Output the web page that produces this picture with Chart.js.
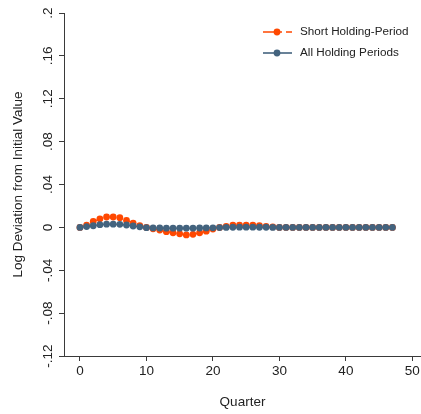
<!DOCTYPE html>
<html>
<head>
<meta charset="utf-8">
<script src="https://cdn.jsdelivr.net/npm/chart.js@4/dist/chart.umd.min.js"></script>
<style>
  html, body { margin: 0; padding: 0; background: #fff; }
  #wrap { width: 421px; height: 414px; }
</style>
</head>
<body>
<div id="wrap"><canvas id="c" width="421" height="414"></canvas></div>
<script>
// quarters 0..47
const quarters = Array.from({ length: 48 }, (_, i) => i);

const shortHolding = [
  0, 0.002, 0.0055, 0.008, 0.0097, 0.0097, 0.009, 0.0065, 0.004, 0.0017,
  0, -0.0013, -0.0025, -0.004, -0.005, -0.006, -0.007, -0.0065, -0.005, -0.0035,
  -0.0015, 0, 0.001, 0.002, 0.002, 0.002, 0.002, 0.0015, 0.001, 0.0005,
  0, 0, 0, 0, 0, 0, 0, 0, 0, 0, 0, 0, 0, 0, 0, 0, 0, 0
];

const allHolding = [
  0, 0.0007, 0.0015, 0.0025, 0.003, 0.003, 0.0028, 0.0022, 0.0013, 0.0005,
  -0.0003, -0.0005, -0.0006, -0.0007, -0.0007, -0.0007, -0.0007, -0.0007, -0.0006, -0.0005,
  -0.0004, -0.0002, 0, 0.0001, 0.0002, 0.0002, 0.0002, 0.0001, 0.0001, 0,
  0, 0, 0, 0, 0, 0, 0, 0, 0, 0, 0, 0, 0, 0, 0, 0, 0, 0
];

const yTickValues = [-0.12, -0.08, -0.04, 0, 0.04, 0.08, 0.12, 0.16, 0.2];
const yTickLabels = ["-.12", "-.08", "-.04", "0", ".04", ".08", ".12", ".16", ".2"];
const xTickValues = [0, 10, 20, 30, 40, 50];

const ORANGE = "#ff4800";
const BLUE = "#43637e";
const AXIS = "#3a3a3a";
const FONT = "'Liberation Sans', Arial, Helvetica, sans-serif";

// y tick labels are rotated like Stata draws them
const rotatedYTicks = {
  id: "rotatedYTicks",
  afterDraw(chart) {
    const ctx = chart.ctx;
    const y = chart.scales.y;
    ctx.save();
    ctx.fillStyle = "#222";
    ctx.font = "13.5px " + FONT;
    ctx.textAlign = "center";
    ctx.textBaseline = "alphabetic";
    yTickValues.forEach((v, i) => {
      const py = y.getPixelForValue(v);
      ctx.save();
      ctx.translate(52, py);
      ctx.rotate(-Math.PI / 2);
      ctx.fillText(yTickLabels[i], 0, 0);
      ctx.restore();
    });
    ctx.restore();
  }
};

// legend: line + marker, like the original
const lineLegend = {
  id: "lineLegend",
  afterDraw(chart) {
    const ctx = chart.ctx;
    const items = [
      { ds: chart.data.datasets[0], y: 32, dash: [13, 4, 2, 4] },
      { ds: chart.data.datasets[1], y: 53, dash: [] }
    ];
    ctx.save();
    items.forEach((it) => {
      ctx.strokeStyle = it.ds.borderColor;
      ctx.lineWidth = 1.6;
      ctx.setLineDash(it.dash);
      ctx.beginPath();
      ctx.moveTo(263, it.y);
      ctx.lineTo(292, it.y);
      ctx.stroke();
      ctx.setLineDash([]);
      ctx.fillStyle = it.ds.pointBackgroundColor;
      ctx.beginPath();
      ctx.arc(277, it.y, 3.4, 0, Math.PI * 2);
      ctx.fill();
      ctx.fillStyle = "#222";
      ctx.font = "11.7px " + FONT;
      ctx.textAlign = "left";
      ctx.textBaseline = "middle";
      ctx.fillText(it.ds.label, 300, it.y);
    });
    ctx.restore();
  }
};

new Chart(document.getElementById("c"), {
  type: "line",
  data: {
    labels: quarters,
    datasets: [
      {
        label: "Short Holding-Period",
        data: quarters.map((q, i) => ({ x: q, y: shortHolding[i] })),
        borderColor: ORANGE,
        borderWidth: 1.2,
        borderDash: [6, 3, 1, 3],
        pointRadius: 3.4,
        pointBorderWidth: 0,
        pointBackgroundColor: ORANGE,
        order: 1
      },
      {
        label: "All Holding Periods",
        data: quarters.map((q, i) => ({ x: q, y: allHolding[i] })),
        borderColor: BLUE,
        borderWidth: 1.2,
        pointRadius: 3.4,
        pointBorderWidth: 0,
        pointBackgroundColor: BLUE,
        order: 0
      }
    ]
  },
  options: {
    responsive: false,
    animation: false,
    layout: { autoPadding: false, padding: { top: 13, right: 0, left: 0, bottom: 0 } },
    plugins: {
      legend: { display: false },
      tooltip: { enabled: false }
    },
    scales: {
      x: {
        type: "linear",
        min: -2.4,
        max: 51.3,
        afterBuildTicks: (s) => { s.ticks = xTickValues.map((v) => ({ value: v })); },
        afterFit: (s) => {
          s.height = 58;
          s.paddingLeft = 0;
          s.paddingRight = 0;
        },
        border: { display: true, color: AXIS, width: 1 },
        grid: { drawOnChartArea: false, drawTicks: true, tickLength: 5, color: AXIS },
        ticks: {
          color: "#222",
          font: { family: FONT, size: 13.5 },
          padding: 2,
          maxRotation: 0,
          callback: (v) => String(v)
        },
        title: {
          display: true,
          text: "Quarter",
          color: "#222",
          font: { family: FONT, size: 13.5 },
          padding: { top: 0, bottom: 4 }
        }
      },
      y: {
        min: -0.12,
        max: 0.2,
        afterBuildTicks: (s) => { s.ticks = yTickValues.map((v) => ({ value: v })); },
        afterFit: (s) => {
          s.width = 64;
          s.paddingTop = 0;
          s.paddingBottom = 0;
        },
        border: { display: true, color: AXIS, width: 1 },
        grid: { drawOnChartArea: false, drawTicks: true, tickLength: 5, color: AXIS },
        ticks: {
          color: "rgba(0,0,0,0)",
          font: { family: FONT, size: 13.5 },
          callback: () => ""
        },
        title: {
          display: true,
          text: "Log Deviation from Initial Value",
          color: "#222",
          font: { family: FONT, size: 13.5 },
          padding: { top: 10, bottom: 0 }
        }
      }
    }
  },
  plugins: [rotatedYTicks, lineLegend]
});
</script>
</body>
</html>
